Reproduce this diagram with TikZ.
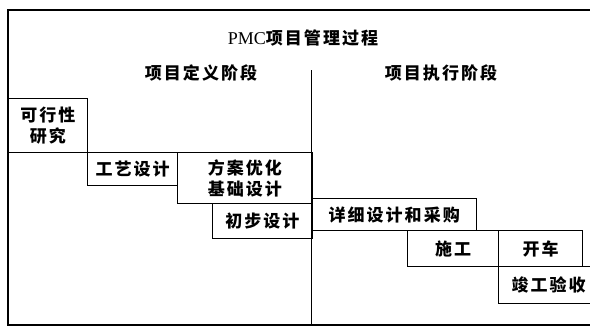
\documentclass[tikz,border=0pt]{standalone}
\usepackage{fontspec}
\setmainfont{Liberation Serif}
\newfontfamily\cjk[LetterSpace=12]{Noto Sans CJK SC}
\begin{document}
\begin{tikzpicture}[x=1pt,y=-1pt,
  frame/.style={line width=1.4pt},
  box/.style={draw,line width=1.4pt,inner sep=0pt,anchor=north west,align=center,
    font=\cjk\bfseries\fontsize{17}{21}\selectfont},
  lbl/.style={inner sep=0pt,font=\cjk\bfseries\fontsize{17}{21}\selectfont}]
\useasboundingbox (0,0) rectangle (590,327);
\begin{scope}
\clip (0,0) rectangle (590,327);
% frame
\coordinate (tr) at (592,10);
\coordinate (tl) at (8,10);
\coordinate (bl) at (8,325);
\coordinate (br) at (592,325);
\draw[frame] (tr) -- (tl) -- (bl) -- (br);
% divider
\coordinate (dtop) at (311.5,70);
\coordinate (dbot) at (311.5,325);
\draw[line width=1.2pt] (dtop) -- (dbot);
% titles
\node[inner sep=0pt] (title) at (303,38) {\fontsize{18}{20}\selectfont PMC{\cjk\bfseries\fontsize{17}{20}\selectfont 项目管理过程}};
\node[lbl] (def) at (201,73) {项目定义阶段};
\node[lbl] (exe) at (441,73) {项目执行阶段};
% boxes
\node[box,minimum width=78.5pt,minimum height=54pt] (kx) at (8,98) {可行性\\研究};
\node[box,minimum width=90pt,minimum height=33pt] (gy) at (87,152) {工艺设计};
\node[box,minimum width=134.5pt,minimum height=51pt] (fa) at (177,152) {方案优化\\基础设计};
\node[box,minimum width=99.5pt,minimum height=35pt] (cb) at (212,203) {初步设计};
\node[box,minimum width=164pt,minimum height=32pt] (xx) at (311.5,198) {详细设计和采购};
\node[box,minimum width=91pt,minimum height=36pt] (sg) at (407,230) {施工};
\node[box,minimum width=84pt,minimum height=36pt] (kc) at (498,230) {开车};
\node[box,minimum width=100pt,minimum height=37pt] (jg) at (498,266) {竣工验收};
\end{scope}
\end{tikzpicture}
\end{document}
